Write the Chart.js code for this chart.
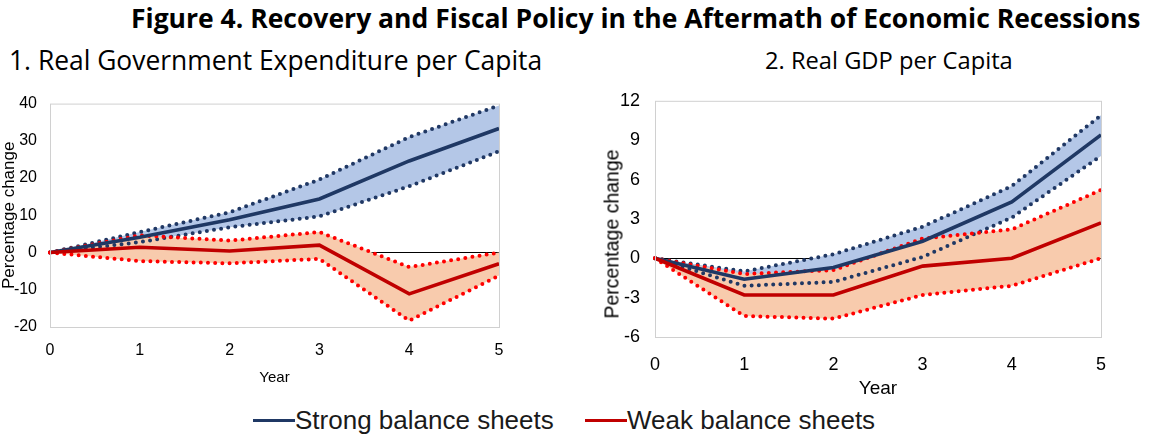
<!DOCTYPE html>
<html>
<head>
<meta charset="utf-8">
<script src="https://cdn.jsdelivr.net/npm/chart.js@4.4.0/dist/chart.umd.min.js"></script>
<style>
  body { margin: 0; background: #fff; width: 1154px; height: 437px; overflow: hidden; position: relative; font-family: "Open Sans", sans-serif; }
  #title { position: absolute; top: 0; left: 131px; font-weight: 700; font-size: 26.5px; line-height: 36px; color: #000; white-space: nowrap; }
  .sub { position: absolute; color: #000; white-space: nowrap; }
  #sub1 { left: 9px; top: 42px; font-size: 26.4px; line-height: 36px; }
  #sub2 { left: 765px; top: 43px; font-size: 23.7px; line-height: 34px; }
  .box { position: absolute; }
  #box1 { left: 0; top: 81px; width: 520px; height: 307px; }
  #box2 { left: 590px; top: 75px; width: 564px; height: 325px; }
  #ytitle2 { position: absolute; left: 612px; top: 234px; transform: translate(-50%, -50%) rotate(-90deg); font-family: "Liberation Sans", Arial, sans-serif; font-size: 19.5px; color: #000; white-space: nowrap; }
  .leg { position: absolute; top: 405px; font-family: "Liberation Sans", Arial, sans-serif; font-size: 26px; color: #1a1a1a; white-space: nowrap; display: flex; align-items: center; }
  .leg span.sw { display: inline-block; width: 42px; height: 3px; }
  #leg1 { left: 253px; }
  #leg2 { left: 585px; }
</style>
</head>
<body>
<div id="title">Figure 4. Recovery and Fiscal Policy in the Aftermath of Economic Recessions</div>
<div class="sub" id="sub1">1. Real Government Expenditure per Capita</div>
<div class="sub" id="sub2">2. Real GDP per Capita</div>
<div class="box" id="box1"><canvas id="c1"></canvas></div>
<div class="box" id="box2"><canvas id="c2"></canvas></div>
<div id="ytitle2">Percentage change</div>
<div class="leg" id="leg1"><span class="sw" style="background:#1f3864"></span>Strong balance sheets</div>
<div class="leg" id="leg2"><span class="sw" style="background:#c00000"></span>Weak balance sheets</div>
<script>
const years = ['0', '1', '2', '3', '4', '5'];

// Panel 1: real government expenditure per capita (percentage change)
const govStrong   = [0, 4.1, 8.8, 14.4, 24.6, 33.3];
const govStrongHi = [0, 5.5, 10.8, 19.6, 31.0, 39.5];
const govStrongLo = [0, 2.8, 6.8, 9.7, 17.8, 27.2];
const govWeak     = [0, 1.4, 0.4, 2.0, -11.1, -3.0];
const govWeakHi   = [0, 4.6, 3.2, 5.5, -3.9, 0];
const govWeakLo   = [0, -2.3, -2.9, -1.7, -18.3, -6.2];

// Panel 2: real GDP per capita (percentage change)
const gdpStrong   = [0, -1.6, -0.7, 1.3, 4.3, 9.4];
const gdpStrongHi = [0, -1.0, 0.3, 2.4, 5.5, 10.9];
const gdpStrongLo = [0, -2.1, -1.8, 0.1, 3.1, 7.8];
const gdpWeak     = [0, -2.8, -2.8, -0.6, 0, 2.7];
const gdpWeakHi   = [0, -1.2, -0.9, 1.5, 2.2, 5.2];
const gdpWeakLo   = [0, -4.4, -4.6, -2.8, -2.1, 0];

const govTicks = { min: -20, max: 40, step: 10 };
const gdpTicks = { min: -6, max: 12, step: 3 };

const NAVY = '#1f3864', RED = '#c00000', DOT_BLUE = '#203864', DOT_RED = '#ff0000';
const FONT = '"Liberation Sans", Arial, sans-serif';

const frame = {
  id: 'frame',
  afterDraw(chart) {
    const { ctx, chartArea: a } = chart;
    ctx.save();
    ctx.strokeStyle = '#d0d0d0';
    ctx.lineWidth = 1;
    ctx.strokeRect(a.left + 0.5, a.top + 0.5, a.right - a.left, a.bottom - a.top);
    ctx.restore();
  }
};

function solid(data, color, order) {
  return { data, borderColor: color, borderWidth: 3.6, pointRadius: 0, fill: false, order, tension: 0 };
}
function dotted(data, color, order, fill, bg) {
  return {
    data, borderColor: color, borderWidth: 4, borderDash: [0, 7.2], borderCapStyle: 'round',
    pointRadius: 0, fill: fill === undefined ? false : fill, backgroundColor: bg || 'transparent', order, tension: 0
  };
}

function makeChart(id, s, sHi, sLo, w, wHi, wLo, t, o) {
  const datasets = [
    solid(w, RED, 0),                                          // 0
    solid(s, NAVY, 1),                                         // 1
    dotted(wHi, DOT_RED, 2, 3, 'rgb(248,203,173)'),            // 2 fills to 3
    dotted(wLo, DOT_RED, 3),                                   // 3
    dotted(sHi, DOT_BLUE, 4, 5, 'rgb(180,199,231)'),           // 4 fills to 5
    dotted(sLo, DOT_BLUE, 5)                                   // 5
  ];
  return new Chart(document.getElementById(id), {
    type: 'line',
    data: { labels: years, datasets },
    plugins: [frame],
    options: {
      responsive: true,
      maintainAspectRatio: false,
      animation: false,
      layout: { padding: { top: 0, right: o.padRight, left: 0, bottom: 0 } },
      plugins: {
        legend: { display: false },
        tooltip: { enabled: false },
        filler: { drawTime: 'beforeDatasetsDraw' }
      },
      scales: {
        x: {
          grid: { display: false, drawTicks: false },
          border: { display: false },
          ticks: { color: '#000', padding: o.xPad, font: { family: FONT, size: o.tickSize }, maxRotation: 0 },
          title: { display: true, text: 'Year', color: '#000', font: { family: FONT, size: o.xTitleSize }, padding: { top: 0, bottom: o.xTitlePad } },
          afterFit(sc) { sc.height = o.xHeight; }
        },
        y: {
          min: t.min, max: t.max,
          grid: { drawTicks: false, color: c => c.tick && c.tick.value === 0 ? '#000' : 'transparent', lineWidth: 1 },
          border: { display: false },
          ticks: { stepSize: t.step, color: '#000', padding: o.yPad, font: { family: FONT, size: o.tickSize } },
          title: { display: o.yTitle, text: 'Percentage change', color: '#000', font: { family: FONT, size: o.yTitleSize }, padding: { top: o.yTitlePad, bottom: 0 } },
          afterFit(sc) { sc.width = o.yWidth; }
        }
      }
    }
  });
}

makeChart('c1', govStrong, govStrongHi, govStrongLo, govWeak, govWeakHi, govWeakLo, govTicks,
  { padRight: 21, xHeight: 61, yWidth: 50, tickSize: 16, xTitleSize: 15, yTitle: true, yTitleSize: 17, xPad: 14, yPad: 13, xTitlePad: 1, yTitlePad: -1 });
makeChart('c2', gdpStrong, gdpStrongHi, gdpStrongLo, gdpWeak, gdpWeakHi, gdpWeakLo, gdpTicks,
  { padRight: 53, xHeight: 63, yWidth: 65, tickSize: 18, xTitleSize: 19, yTitle: false, yTitleSize: 19.5, xPad: 17, yPad: 15, xTitlePad: 0, yTitlePad: 10 });
</script>
</body>
</html>
